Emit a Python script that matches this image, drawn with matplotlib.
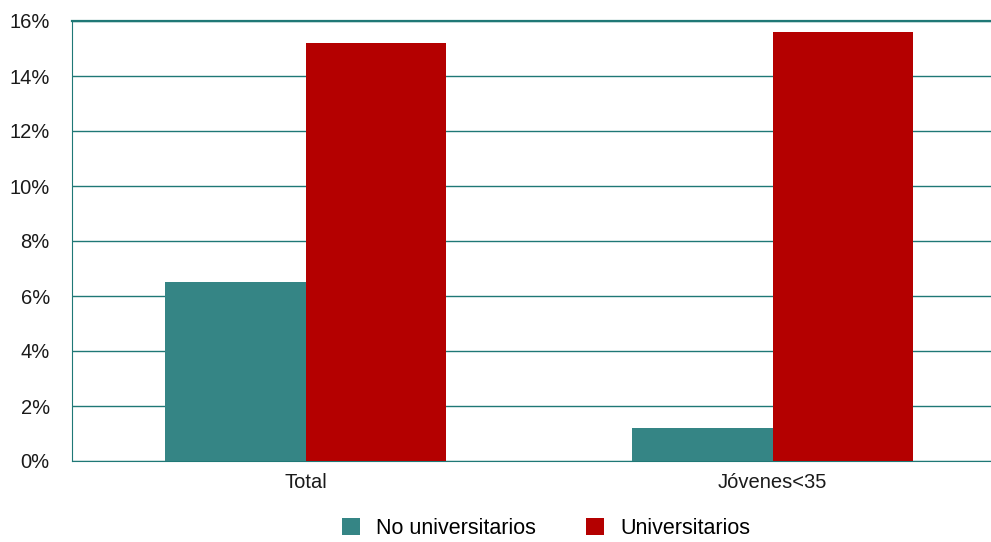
import numpy as np
import matplotlib.pyplot as plt
from matplotlib.ticker import FuncFormatter

# datos
categorias = ['Total', 'Jóvenes<35']
no_universitarios = [6.5, 1.2]
universitarios = [15.2, 15.6]
series = ['No universitarios', 'Universitarios']

plt.rcParams['font.family'] = ['Liberation Sans', 'DejaVu Sans']

fig = plt.figure(figsize=(9.91, 5.42), dpi=100)
ax = fig.add_axes([72/991, 81/542, 934/991, 440/542])

x = np.arange(len(categorias))
w = 0.3
ax.bar(x - w/2, no_universitarios, w, color='#358585', label=series[0], zorder=3)
ax.bar(x + w/2, universitarios, w, color='#b40000', label=series[1], zorder=3)

ax.set_xlim(-0.5, 1.5)
ax.set_ylim(0, 16)
ax.set_yticks(np.arange(0, 17, 2))
ax.yaxis.set_major_formatter(FuncFormatter(lambda v, p: f'{v:.0f}%'))
ax.set_xticks(x)
ax.set_xticklabels(categorias)

ax.grid(axis='y', color='#1f7876', linewidth=1.0, zorder=0)
ax.spines['right'].set_visible(False)
ax.spines['left'].set_color('#1f7876')
ax.spines['bottom'].set_color('#1f7876')
ax.spines['top'].set_color('#1f7876')
ax.spines['top'].set_linewidth(1.6)
ax.tick_params(axis='both', length=0, labelsize=14.5, colors='#1a1a1a')
ax.tick_params(axis='y', pad=16)
ax.tick_params(axis='x', pad=9)

fig.legend(loc='lower center', bbox_to_anchor=(0.551, -0.03), ncol=2, frameon=False,
           fontsize=15.5, handlelength=0.85, handleheight=0.85, columnspacing=2.3,
           handletextpad=0.75)

fig.savefig('out.png', dpi=100)
